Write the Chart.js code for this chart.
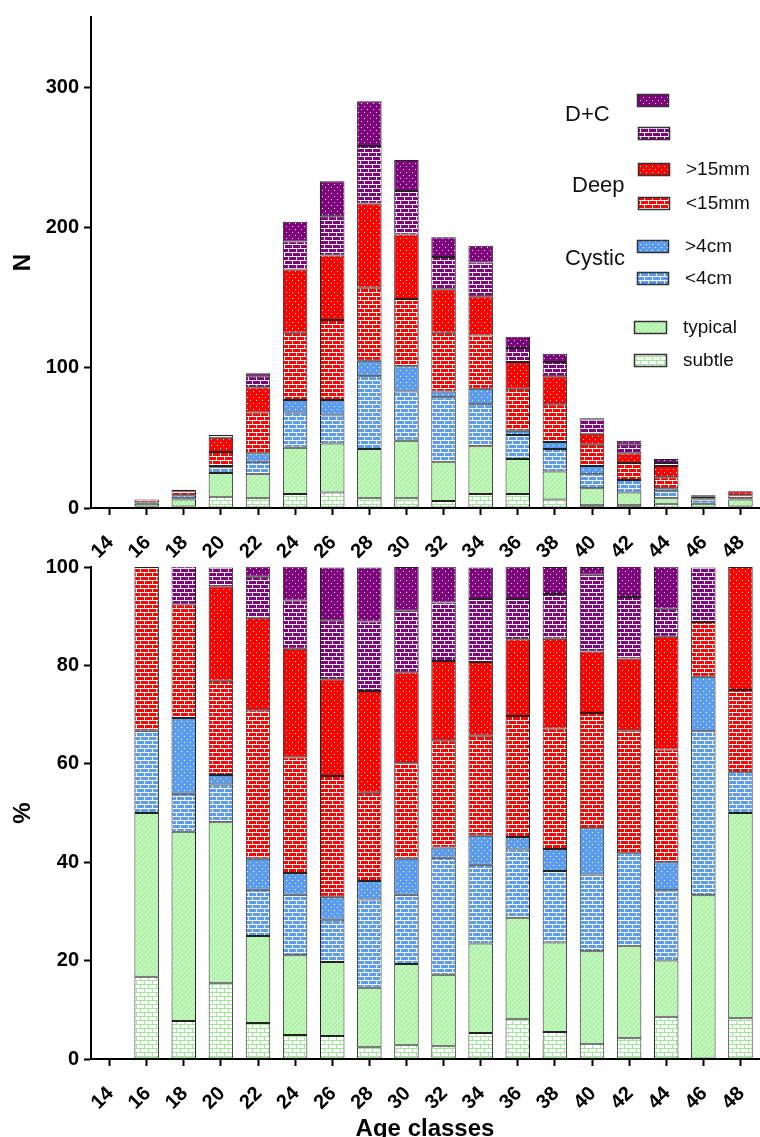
<!DOCTYPE html>
<html>
<head>
<meta charset="utf-8">
<script src="https://cdn.jsdelivr.net/npm/chart.js@4.4.1/dist/chart.umd.min.js"></script>
<style>
    html, body { margin: 0; padding: 0; background: #fff; overflow: hidden; width: 760px; height: 1137px; }
    #wrap { position: relative; width: 760px; height: 1137px; }
    canvas { position: absolute; left: 0; }
    #chartN { top: 0; }
    #chartPct { top: 540px; }
</style>
</head>
<body>
<div id="wrap">
    <canvas id="chartN" width="760" height="575"></canvas>
    <canvas id="chartPct" width="760" height="610"></canvas>
</div>
<script>
// age classes on the x axis
const ageClasses = ['14', '16', '18', '20', '22', '24', '26', '28', '30', '32', '34', '36', '38', '40', '42', '44', '46', '48'];

// counts (top panel)
const subtleN   = [0, 1, 1, 8, 7, 10, 11, 7, 7, 5, 10, 10, 6, 2, 2, 3, 0, 1];
const typicalN  = [0, 2, 5, 17, 17, 33, 35, 35, 41, 28, 34, 25, 20, 12, 9, 4, 3, 5];
const cystSmN   = [0, 1, 1, 4, 9, 25, 20, 52, 35, 46, 30, 17, 16, 10, 9, 5, 3, 1];
const cystLgN   = [0, 0, 2, 1, 6, 9, 11, 11, 18, 4, 11, 3, 5, 6, 0, 2, 1, 0];
const deepSmN   = [0, 2, 3, 10, 29, 48, 57, 52, 48, 42, 38, 30, 27, 15, 12, 8, 1, 2];
const deepLgN   = [0, 0, 0, 10, 18, 45, 46, 60, 46, 31, 28, 19, 20, 8, 7, 8, 0, 3];
const dcLowN    = [0, 0, 1, 2, 8, 20, 28, 41, 31, 23, 24, 10, 10, 10, 6, 2, 1, 0];
const dcHighN   = [0, 0, 0, 0, 2, 14, 25, 32, 22, 14, 12, 8, 6, 1, 3, 3, 0, 0];

// percentages (bottom panel)
const subtleP   = [0, 16.7, 7.7, 15.4, 7.3, 4.9, 4.7, 2.4, 2.8, 2.6, 5.3, 8.2, 5.5, 3.1, 4.2, 8.6, 0, 8.3];
const typicalP  = [0, 33.3, 38.5, 32.7, 17.7, 16.2, 15.0, 12.1, 16.5, 14.5, 18.2, 20.5, 18.2, 18.8, 18.8, 11.4, 33.3, 41.7];
const cystSmP   = [0, 16.7, 7.7, 7.7, 9.4, 12.3, 8.6, 17.9, 14.1, 23.8, 16.0, 13.9, 14.5, 15.6, 18.8, 14.3, 33.3, 8.3];
const cystLgP   = [0, 0, 15.4, 1.9, 6.3, 4.4, 4.7, 3.8, 7.3, 2.1, 5.9, 2.5, 4.5, 9.4, 0, 5.7, 11.1, 0];
const deepSmP   = [0, 33.3, 23.1, 19.2, 30.2, 23.5, 24.5, 17.9, 19.4, 21.8, 20.3, 24.6, 24.5, 23.4, 25.0, 22.9, 11.1, 16.7];
const deepLgP   = [0, 0, 0, 19.2, 18.8, 22.1, 19.7, 20.7, 18.5, 16.1, 15.0, 15.6, 18.2, 12.5, 14.6, 22.9, 0, 25.0];
const dcLowP    = [0, 0, 7.7, 3.8, 8.3, 9.8, 12.0, 14.1, 12.5, 11.9, 12.8, 8.2, 9.1, 15.6, 12.5, 5.7, 11.1, 0];
const dcHighP   = [0, 0, 0, 0, 2.1, 6.9, 10.7, 11.0, 8.9, 7.3, 6.4, 6.6, 5.5, 1.6, 6.3, 8.6, 0, 0];

const yTicksN = [0, 100, 200, 300];
const yTicksP = [0, 20, 40, 60, 80, 100];

const FONT = "'Liberation Sans', Arial, Helvetica, sans-serif";
const RED = '#ff0000', BLUE = '#5b9bf0', PURPLE = '#800080';

function brick(ctx, base, line) {
    const c = document.createElement('canvas');
    c.width = 8; c.height = 8;
    const g = c.getContext('2d');
    g.fillStyle = base; g.fillRect(0, 0, 8, 8);
    g.fillStyle = line;
    g.fillRect(0, 0, 8, 1); g.fillRect(0, 4, 8, 1);
    g.fillRect(0, 0, 1, 4); g.fillRect(4, 4, 1, 4);
    return ctx.createPattern(c, 'repeat');
}

function dots(ctx, base, dot) {
    const c = document.createElement('canvas');
    c.width = 6; c.height = 6;
    const g = c.getContext('2d');
    g.fillStyle = base; g.fillRect(0, 0, 6, 6);
    g.fillStyle = dot;
    g.fillRect(1, 1, 1, 1); g.fillRect(4, 4, 1, 1);
    return ctx.createPattern(c, 'repeat');
}

function hatch(ctx, base, line) {
    const c = document.createElement('canvas');
    c.width = 5; c.height = 5;
    const g = c.getContext('2d');
    g.fillStyle = base; g.fillRect(0, 0, 5, 5);
    g.fillStyle = line;
    for (let i = 0; i < 5; i++) g.fillRect(i, 4 - i, 1, 1);
    return ctx.createPattern(c, 'repeat');
}

function makeFills(ctx) {
    return {
        subtle: brick(ctx, '#ffffff', '#9ee898'),
        typical: hatch(ctx, '#b3f2ac', '#d6fbd2'),
        cystSm: brick(ctx, BLUE, '#ffffff'),
        cystLg: dots(ctx, BLUE, '#ffffff'),
        deepSm: brick(ctx, RED, '#ffffff'),
        deepLg: dots(ctx, RED, '#ffffff'),
        dcLow: brick(ctx, PURPLE, '#ffffff'),
        dcHigh: dots(ctx, PURPLE, '#ffffff')
    };
}

function buildDatasets(fills, series) {
    const keys = ['subtle', 'typical', 'cystSm', 'cystLg', 'deepSm', 'deepLg', 'dcLow', 'dcHigh'];
    return keys.map((k, i) => ({
        label: k,
        data: series[i].map(v => v === 0 ? null : v),
        backgroundColor: fills[k],
        borderColor: '#222',
        borderWidth: 1,
        borderSkipped: false,
        barPercentage: 0.66,
        categoryPercentage: 1
    }));
}

const tickFont = { family: FONT, size: 20, weight: 'bold' };

function xScale(height, withTitle) {
    return {
        stacked: true,
        offset: true,
        grid: { offset: false, drawOnChartArea: false, drawTicks: true, tickLength: 7, tickWidth: 2, tickColor: '#000' },
        border: { color: '#000', width: 2 },
        ticks: { color: '#000', font: tickFont, maxRotation: 45, minRotation: 45, padding: 16, labelOffset: 1, autoSkip: false },
        title: withTitle ? { display: true, text: 'Age classes', color: '#000', font: { family: FONT, size: 24, weight: 'bold' }, padding: { top: 0, bottom: 6 } } : { display: false },
        afterFit(s) {
            s.height = height;
            s.paddingLeft = 0;
            s.paddingRight = 0;
        }
    };
}

function yScale(max, step, tickList, titleText) {
    return {
        stacked: true,
        min: 0,
        max: max,
        ticks: { stepSize: step, color: '#000', font: tickFont, padding: 5 },
        grid: { drawOnChartArea: false, drawTicks: true, tickLength: 7, tickWidth: 2, tickColor: '#000' },
        border: { color: '#000', width: 2 },
        title: { display: true, text: titleText, color: '#000', font: { family: FONT, size: 24, weight: 'bold' }, padding: { top: 9, bottom: 0 } },
        afterFit(s) { s.width = 91; },
        afterBuildTicks(s) { s.ticks = s.ticks.filter(t => tickList.includes(t.value)); }
    };
}

// legend drawn inside the top panel
const legendRows = [
    { key: 'dcHigh', x: 637, y: 94, w: 32, text: '' },
    { key: 'dcLow', x: 638, y: 127, w: 32, text: '' },
    { key: 'deepLg', x: 638, y: 163, w: 32, text: '>15mm' },
    { key: 'deepSm', x: 638, y: 197, w: 32, text: '<15mm' },
    { key: 'cystLg', x: 637, y: 240, w: 32, text: '>4cm' },
    { key: 'cystSm', x: 637, y: 272, w: 32, text: '<4cm' },
    { key: 'typical', x: 634, y: 321, w: 33, text: 'typical' },
    { key: 'subtle', x: 634, y: 354, w: 33, text: 'subtle' }
];
const legendGroups = [
    { text: 'D+C', x: 565, y: 115 },
    { text: 'Deep', x: 572, y: 186 },
    { text: 'Cystic', x: 565, y: 259 }
];

function legendPlugin(fills) {
    return {
        id: 'patternLegend',
        afterDraw(chart) {
            const ctx = chart.ctx;
            ctx.save();
            legendRows.forEach(r => {
                ctx.fillStyle = fills[r.key];
                ctx.fillRect(r.x, r.y, r.w, 13);
                ctx.strokeStyle = '#333';
                ctx.lineWidth = 1.5;
                ctx.strokeRect(r.x + 0.5, r.y + 0.5, r.w - 1, 12);
                if (r.text) {
                    ctx.fillStyle = '#111';
                    ctx.font = '19px ' + FONT;
                    ctx.textBaseline = 'middle';
                    ctx.textAlign = 'left';
                    ctx.fillText(r.text, r.x + r.w + 16, r.y + 7);
                }
            });
            ctx.fillStyle = '#111';
            ctx.font = '22px ' + FONT;
            ctx.textBaseline = 'middle';
            ctx.textAlign = 'left';
            legendGroups.forEach(g => ctx.fillText(g.text, g.x, g.y));
            ctx.restore();
        }
    };
}

const commonOpts = {
    responsive: false,
    animation: false,
    plugins: { legend: { display: false }, tooltip: { enabled: false } }
};

// top panel: counts
const ctxN = document.getElementById('chartN').getContext('2d');
const fillsN = makeFills(ctxN);
new Chart(ctxN, {
    type: 'bar',
    data: {
        labels: ageClasses,
        datasets: buildDatasets(fillsN, [subtleN, typicalN, cystSmN, cystLgN, deepSmN, deepLgN, dcLowN, dcHighN])
    },
    options: Object.assign({}, commonOpts, {
        layout: { padding: { top: 15, right: 1, left: 0, bottom: 0 } },
        scales: { x: xScale(67, false), y: yScale(350, 100, yTicksN, 'N') }
    }),
    plugins: [legendPlugin(fillsN)]
});

// bottom panel: percentages
const ctxP = document.getElementById('chartPct').getContext('2d');
const fillsP = makeFills(ctxP);
new Chart(ctxP, {
    type: 'bar',
    data: {
        labels: ageClasses,
        datasets: buildDatasets(fillsP, [subtleP, typicalP, cystSmP, cystLgP, deepSmP, deepLgP, dcLowP, dcHighP])
    },
    options: Object.assign({}, commonOpts, {
        layout: { padding: { top: 27, right: 1, left: 0, bottom: 0 } },
        scales: { x: xScale(91, true), y: yScale(100, 20, yTicksP, '%') }
    })
});
</script>
</body>
</html>
